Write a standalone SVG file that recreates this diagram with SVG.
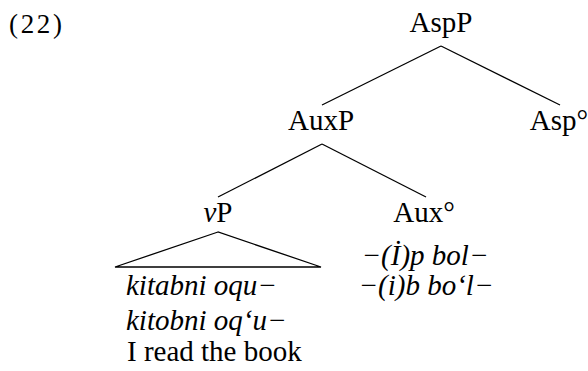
<svg xmlns="http://www.w3.org/2000/svg" width="588" height="371" viewBox="0 0 588 371">
<style>
text{font-family:"Liberation Serif","Times New Roman",serif;font-size:29px;fill:#000}
.c{text-anchor:middle}
.i{font-style:italic}
.num{font-size:27px}
.ln{stroke:#000;stroke-width:1.3;fill:none}
</style>
<rect width="588" height="371" fill="#fff"/>
<text class="num" x="9" y="33" textLength="53" lengthAdjust="spacing">(22)</text>
<g id="connectors" class="ln">
<line x1="441" y1="46" x2="322" y2="105"/>
<line x1="441" y1="46" x2="560" y2="105"/>
<line x1="322" y1="144" x2="218" y2="197"/>
<line x1="322" y1="144" x2="426" y2="197"/>
<polygon points="218,232 115,267 321,267"/>
</g>
<g id="AspP"><text class="c" x="441" y="32">AspP</text></g>
<g id="AuxP"><text class="c" x="321" y="130">AuxP</text></g>
<g id="Asp0"><text class="c" x="559" y="130">Asp°</text></g>
<g id="vP"><text class="c" x="218" y="222"><tspan class="i">v</tspan>P</text></g>
<g id="Aux0">
<text class="c" x="424" y="222">Aux°</text>
<text class="c i" x="425" y="265">−(İ)p bol−</text>
<text class="c i" x="426" y="295">−(i)b bo‘l−</text>
</g>
<g id="vP-content">
<text class="i" x="126" y="295">kitabni oqu−</text>
<text class="i" x="126" y="330">kitobni oq‘u−</text>
<text x="127" y="361">I read the book</text>
</g>
</svg>
